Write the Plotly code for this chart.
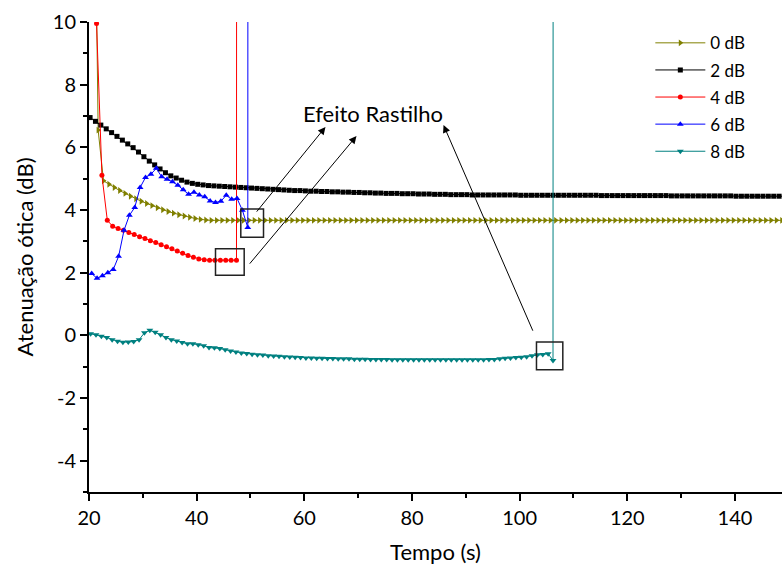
import plotly.graph_objects as go

# ---------------- data ----------------
series_names = ["0 dB", "2 dB", "4 dB", "6 dB", "8 dB"]

# 0 dB (olive) - sampled once per second starting at 21.7 s, preceded by an off-scale point
t0_start = 21.7
v_0db = [6.55, 4.93, 4.82, 4.72, 4.62, 4.53, 4.44, 4.36, 4.28, 4.21,
         4.14, 4.07, 4.01, 3.95, 3.90, 3.85, 3.81, 3.77, 3.73, 3.70,
         3.68, 3.67, 3.67, 3.67, 3.67, 3.67, 3.67, 3.67, 3.67, 3.67,
         3.67, 3.67, 3.67, 3.67, 3.67, 3.67, 3.67, 3.67, 3.67, 3.67,
         3.67, 3.67, 3.67, 3.67, 3.67, 3.67, 3.67, 3.67, 3.67, 3.67,
         3.67, 3.67, 3.67, 3.67, 3.67, 3.67, 3.67, 3.67, 3.67, 3.67,
         3.67, 3.67, 3.67, 3.67, 3.67, 3.67, 3.67, 3.67, 3.67, 3.67,
         3.67, 3.67, 3.67, 3.67, 3.67, 3.67, 3.67, 3.67, 3.67, 3.67,
         3.67, 3.67, 3.67, 3.67, 3.67, 3.67, 3.67, 3.67, 3.67, 3.67,
         3.67, 3.67, 3.67, 3.67, 3.67, 3.67, 3.67, 3.67, 3.67, 3.67,
         3.67, 3.67, 3.67, 3.67, 3.67, 3.67, 3.67, 3.67, 3.67, 3.67,
         3.67, 3.67, 3.67, 3.67, 3.67, 3.67, 3.67, 3.67, 3.67, 3.67,
         3.67, 3.67, 3.67, 3.67, 3.67, 3.67, 3.67, 3.67]
t_0db_pre = [20.7]
v_0db_pre = [20.0]

# 2 dB (black)
t2_start = 20.2
v_2db = [6.95, 6.83, 6.71, 6.59, 6.47, 6.35, 6.23, 6.11, 5.99, 5.85,
         5.70, 5.56, 5.44, 5.31, 5.19, 5.09, 5.02, 4.95, 4.89, 4.85,
         4.82, 4.80, 4.78, 4.77, 4.76, 4.75, 4.74, 4.73, 4.72, 4.71,
         4.70, 4.69, 4.68, 4.67, 4.66, 4.65, 4.64, 4.63, 4.62, 4.62,
         4.61, 4.60, 4.60, 4.59, 4.59, 4.58, 4.58, 4.57, 4.57, 4.56,
         4.56, 4.55, 4.55, 4.54, 4.54, 4.53, 4.53, 4.53, 4.52, 4.52,
         4.52, 4.51, 4.51, 4.51, 4.50, 4.50, 4.50, 4.49, 4.49, 4.49,
         4.49, 4.48, 4.48, 4.48, 4.48, 4.48, 4.48, 4.48, 4.48, 4.48,
         4.47, 4.47, 4.47, 4.47, 4.47, 4.47, 4.47, 4.47, 4.47, 4.47,
         4.47, 4.47, 4.47, 4.47, 4.47, 4.46, 4.46, 4.46, 4.46, 4.46,
         4.46, 4.46, 4.46, 4.46, 4.46, 4.46, 4.46, 4.46, 4.45, 4.45,
         4.45, 4.45, 4.45, 4.45, 4.45, 4.45, 4.45, 4.45, 4.45, 4.45,
         4.44, 4.44, 4.44, 4.44, 4.44, 4.44, 4.44, 4.44, 4.44, 4.44]

# 4 dB (red)
t_4db = [20.4, 21.4, 22.4, 23.4, 24.4, 25.4, 26.4, 27.4, 28.4, 29.4,
         30.4, 31.4, 32.4, 33.4, 34.4, 35.4, 36.4, 37.4, 38.4, 39.4,
         40.4, 41.4, 42.4, 43.4, 44.4, 45.4, 46.4, 47.4, 47.45]
v_4db = [30.0, 9.95, 5.11, 3.67, 3.48, 3.41, 3.35, 3.28, 3.22, 3.15,
         3.09, 3.02, 2.96, 2.89, 2.83, 2.76, 2.69, 2.62, 2.55, 2.49,
         2.44, 2.41, 2.40, 2.40, 2.40, 2.40, 2.40, 2.40, 30.0]

# 6 dB (blue)
t_6db = [20.5, 21.5, 22.5, 23.5, 24.5, 25.5, 26.5, 27.5, 28.5, 29.5,
         30.5, 31.5, 32.5, 33.5, 34.5, 35.5, 36.5, 37.5, 38.5, 39.5,
         40.5, 41.5, 42.5, 43.5, 44.5, 45.5, 46.5, 47.5, 48.5, 49.5, 49.55]
v_6db = [1.97, 1.82, 1.90, 2.00, 2.10, 2.52, 3.35, 3.83, 4.08, 4.72,
         5.04, 5.14, 5.33, 5.06, 4.98, 4.90, 4.79, 4.65, 4.50, 4.57,
         4.48, 4.42, 4.29, 4.24, 4.28, 4.47, 4.34, 4.37, 3.99, 3.44, 30.0]

# 8 dB (teal)
t8_start = 20.3
v_8db = [0.05, 0.02, -0.03, -0.07, -0.14, -0.19, -0.22, -0.21, -0.20, -0.14,
         0.08, 0.16, 0.10, 0.02, -0.07, -0.14, -0.18, -0.23, -0.27, -0.27,
         -0.30, -0.33, -0.39, -0.40, -0.42, -0.46, -0.50, -0.53, -0.56, -0.58,
         -0.60, -0.62, -0.63, -0.65, -0.66, -0.67, -0.68, -0.69, -0.70, -0.71,
         -0.72, -0.72, -0.73, -0.73, -0.74, -0.74, -0.75, -0.75, -0.75, -0.76,
         -0.76, -0.76, -0.77, -0.77, -0.77, -0.77, -0.78, -0.78, -0.78, -0.78,
         -0.78, -0.78, -0.78, -0.78, -0.78, -0.78, -0.78, -0.78, -0.78, -0.78,
         -0.78, -0.78, -0.78, -0.78, -0.77, -0.77, -0.75, -0.73, -0.72, -0.71,
         -0.70, -0.68, -0.65, -0.62, -0.61, -0.59]
t_8db_post = [106.2, 106.25]
v_8db_post = [-0.80, 30.0]

y_tickvals = [-4, -2, 0, 2, 4, 6, 8, 10]
y_ticktext = ["-4", "-2", "0", "2", "4", "6", "8", "10"]
x_tickvals = [20, 40, 60, 80, 100, 120, 140]
x_ticktext = ["20", "40", "60", "80", "100", "120", "140"]

annot_text = "Efeito Rastilho"

# ---------------- build ----------------
def times(start, n):
    return [round(start + i, 2) for i in range(n)]

t_0db = t_0db_pre + times(t0_start, len(v_0db))
y_0db = v_0db_pre + v_0db
t_2db = times(t2_start, len(v_2db))
t_8db = times(t8_start, len(v_8db)) + t_8db_post
y_8db = v_8db + v_8db_post

FONT = "Lato, 'Open Sans', sans-serif"
XR = [20, 148.74]
YR = [-5, 10]

styles = [
    ("#808000", "triangle-right", 6),
    ("#000000", "square", 5),
    ("#ff0000", "circle", 5),
    ("#0000ff", "triangle-up", 6),
    ("#008080", "triangle-down", 6),
]
xs = [t_0db, t_2db, t_4db, t_6db, t_8db]
ys = [y_0db, v_2db, v_4db, v_6db, y_8db]

fig = go.Figure()
for name, x, y, (c, sym, sz) in zip(series_names, xs, ys, styles):
    fig.add_trace(go.Scatter(
        x=x, y=y, name=name, mode="lines+markers", legendgroup=name,
        line=dict(color=c, width=1),
        marker=dict(color=c, symbol=sym, size=sz, line=dict(width=0)),
    ))

axis_common = dict(showgrid=False, zeroline=False, linecolor="black",
                   tickcolor="black", tickwidth=1.5)

fig.update_layout(
    width=782, height=569,
    margin=dict(l=89, r=0, t=22, b=77),
    paper_bgcolor="white", plot_bgcolor="white",
    font=dict(family=FONT, size=20, color="black"),
    showlegend=True,
    legend=dict(x=0.81, y=0.993, xanchor="left", yanchor="top",
                bgcolor="rgba(0,0,0,0)", borderwidth=0,
                font=dict(size=17), itemwidth=50, tracegroupgap=2),
    xaxis=dict(range=XR, tickvals=x_tickvals, ticktext=x_ticktext,
               ticks="outside", ticklen=7, showline=True, linewidth=2,
               minor=dict(dtick=10, tick0=20, ticks="outside", ticklen=4,
                          tickcolor="black", tickwidth=1.5),
               title=dict(text="Tempo (s)", font=dict(size=22), standoff=17),
               **axis_common),
    yaxis=dict(range=YR, tickvals=y_tickvals, ticktext=y_ticktext,
               ticks="outside", ticklen=7, showline=True, linewidth=2,
               minor=dict(dtick=1, tick0=0, ticks="outside", ticklen=4,
                          tickcolor="black", tickwidth=1.5),
               title=dict(text="Atenuação ótica (dB)", font=dict(size=22), standoff=13),
               **axis_common),
    xaxis2=dict(range=XR, overlaying="x", side="top", anchor="y",
                tickvals=x_tickvals, showticklabels=False,
                ticks="inside", ticklen=7, showline=True, linewidth=2,
                minor=dict(dtick=10, tick0=20, ticks="inside", ticklen=4,
                           tickcolor="black", tickwidth=1.5),
                **axis_common),
    yaxis2=dict(range=YR, overlaying="y", side="right", anchor="x",
                tickvals=y_tickvals, showticklabels=False,
                ticks="inside", ticklen=7, showline=False,
                minor=dict(dtick=1, tick0=0, ticks="inside", ticklen=4,
                           tickcolor="black", tickwidth=1.5),
                **axis_common),
)

# boxes around the "rastilho" points
boxes = [(48.20, 52.42, 3.13, 4.03), (43.50, 48.83, 1.92, 2.76), (103.13, 108.02, -1.10, -0.21)]
for x0, x1, y0, y1 in boxes:
    fig.add_shape(type="rect", xref="x", yref="y", x0=x0, x1=x1, y0=y0, y1=y1,
                  line=dict(color="#222222", width=1.5), fillcolor="rgba(0,0,0,0)")

fig.add_annotation(x=72.67, y=7.09, xref="x", yref="y", text=annot_text,
                   showarrow=False, font=dict(size=22, color="black"))

arrows = [((63.93, 6.65), (50.93, 3.90)), ((69.69, 6.36), (49.63, 2.24)), ((85.86, 6.71), (102.57, 0.10))]
for (hx, hy), (tx, ty) in arrows:
    fig.add_annotation(x=hx, y=hy, ax=tx, ay=ty, xref="x", yref="y", axref="x", ayref="y",
                       text="", showarrow=True, arrowhead=2, arrowsize=1.5, arrowwidth=1,
                       arrowcolor="black")

fig.write_html("out.html")
